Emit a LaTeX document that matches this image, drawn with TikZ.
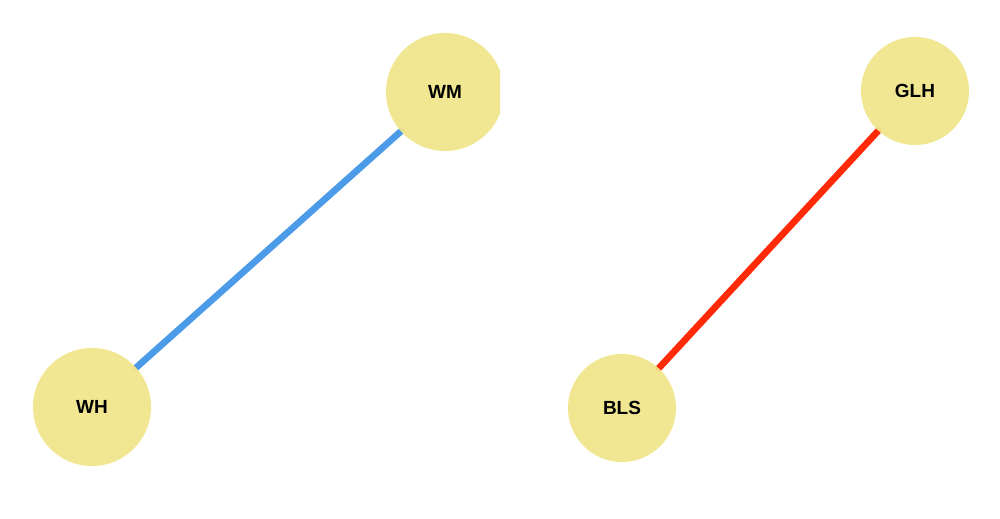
\documentclass[tikz,border=0pt]{standalone}
\usepackage{fontspec}
\setmainfont{Liberation Sans}
\usetikzlibrary{backgrounds}

\definecolor{nodekhaki}{RGB}{240,230,140}
\definecolor{linkblue}{RGB}{76,155,232}
\definecolor{linkred}{RGB}{255,42,8}

\tikzset{
  person/.style={circle,fill=nodekhaki,fill opacity=0.94,text opacity=1,draw=none,inner sep=0pt,outer sep=0pt,
    font=\fontsize{5.4}{6}\selectfont\bfseries},
  big/.style={minimum size=1.18cm},
  small/.style={minimum size=1.08cm},
  link/.style={line width=1.9pt,line cap=round}
}

\begin{document}
\begin{tikzpicture}[x=0.01cm,y=-0.01cm]
            \useasboundingbox (0,0) rectangle (1000,519);

            % left pair
            \begin{scope}
                \clip (0,0) rectangle (500,519);
                \node[person,big] (wh) at (92,407) {\raisebox{-1.5pt}{WH}};
                \node[person,big] (wm) at (445,92) {\raisebox{-1.5pt}{WM}};
            \end{scope}

            % right pair
            \node[person,small] (bls) at (622,408) {\raisebox{-1.5pt}{BLS}};
            \node[person,small] (glh) at (915,91) {\raisebox{-1.5pt}{GLH}};

            \begin{scope}[on background layer]
                \draw[link,linkblue] (wh) -- (wm);
                \draw[link,linkred] (bls) -- (glh);
            \end{scope}
        \end{tikzpicture}
\end{document}
